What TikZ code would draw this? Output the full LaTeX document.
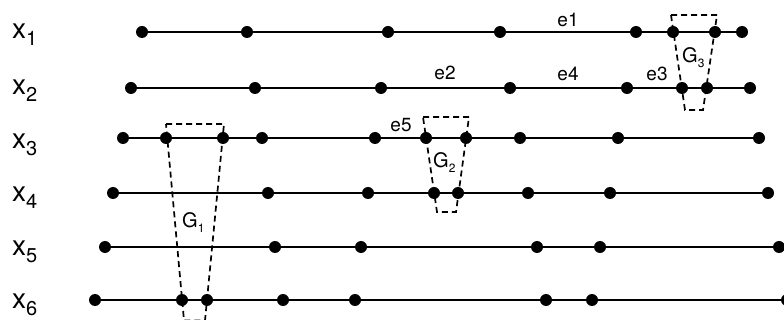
\documentclass[tikz,border=0pt]{standalone}
\usepackage{fontspec}
\setmainfont{TeX Gyre Heros}
\begin{document}
\begin{tikzpicture}[x=1pt,y=-1pt,
  rowline/.style={line width=1.8pt},
  dot/.style={circle,fill=black,inner sep=0pt,minimum size=12pt},
  grp/.style={line width=1.7pt,dash pattern=on 6pt off 4pt},
  rowlab/.style={anchor=base west,inner sep=0pt,font=\fontsize{28}{30}\selectfont},
  elab/.style={anchor=base,inner sep=0pt,font=\fontsize{19}{22}\selectfont},
  glab/.style={anchor=base west,inner sep=0pt,font=\fontsize{20}{22}\selectfont}]
\useasboundingbox (0,0) rectangle (784,320);
\clip (0,0) rectangle (784,320);
% dots
\foreach \r/\y/\xs in {1/32/{142,247,388,500,636,673,715,742},
                       2/88/{131,255,381,510,627,682,707,750},
                       3/138/{123,166,223,262,375,426,466,520,618,759},
                       4/193/{113,268,368,434,458,528,610,768},
                       5/247/{105,275,361,537,600,779},
                       6/300/{95,182,207,283,355,546,592,787}}{
  \foreach \x [count=\i] in \xs { \node[dot] (r\r-\i) at (\x,\y) {}; }
}
% row lines
\foreach \r/\n in {1/8,2/8,3/10,4/8,5/6,6/8}
  \draw[rowline] (r\r-1.center) -- (r\r-\n.center);
% groups
\draw[grp] (166,124) -- (224,124) -- (205,320.5) -- (184,320.5) -- cycle;
\draw[grp] (423,117) -- (469,117) -- (456,212) -- (437,212) -- cycle;
\draw[grp] (671,15) -- (717,15) -- (703,110) -- (685,110) -- cycle;
% row labels
\node[rowlab] (l1) at (12,39) {x\raisebox{-7pt}{\fontsize{20}{22}\selectfont 1}};
\node[rowlab] (l2) at (12,95) {x\raisebox{-7pt}{\fontsize{20}{22}\selectfont 2}};
\node[rowlab] (l3) at (12,149) {x\raisebox{-7pt}{\fontsize{20}{22}\selectfont 3}};
\node[rowlab] (l4) at (12,202) {x\raisebox{-7pt}{\fontsize{20}{22}\selectfont 4}};
\node[rowlab] (l5) at (12,256) {x\raisebox{-7pt}{\fontsize{20}{22}\selectfont 5}};
\node[rowlab] (l6) at (12,308) {x\raisebox{-7pt}{\fontsize{20}{22}\selectfont 6}};
% edge labels
\node[elab] (e1) at (568,27) {e1};
\node[elab] (e2) at (445,80) {e2};
\node[elab] (e4) at (568,81) {e4};
\node[elab] (e3) at (657,81) {e3};
\node[elab] (e5) at (401,132) {e5};
% group labels
\node[glab] (g3) at (682,63) {G\raisebox{-5pt}{\fontsize{12}{13}\selectfont 3}};
\node[glab] (g2) at (433,168) {G\raisebox{-5pt}{\fontsize{12}{13}\selectfont 2}};
\node[glab] (g1) at (182,228) {G\raisebox{-5pt}{\fontsize{12}{13}\selectfont 1}};
\end{tikzpicture}
\end{document}
